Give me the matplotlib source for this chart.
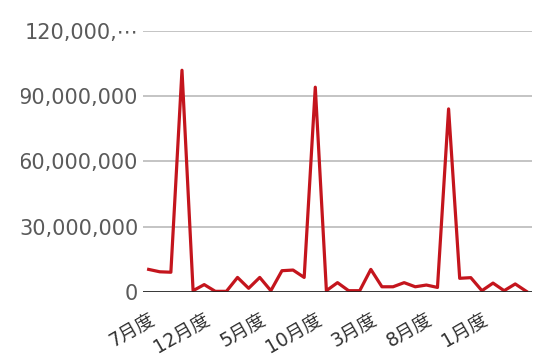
import matplotlib
matplotlib.use("Agg")
import matplotlib.pyplot as plt
from matplotlib.patches import Rectangle
from matplotlib.ticker import FixedLocator, FixedFormatter

plt.rcParams['font.family'] = ['DejaVu Sans', 'Noto Sans CJK JP']

# months from 7月度 on, 35 monthly points
months = [7, 8, 9, 10, 11, 12, 1, 2, 3, 4, 5, 6,
          7, 8, 9, 10, 11, 12, 1, 2, 3, 4, 5, 6,
          7, 8, 9, 10, 11, 12, 1, 2, 3, 4, 5]
categories = [f"{m}月度" for m in months]
values = [10.3e6, 9.2e6, 9.0e6, 102.0e6, 0.5e6, 3.3e6, 0.2e6, 0.2e6, 6.6e6, 1.6e6,
          6.6e6, 0.5e6, 9.7e6, 10.0e6, 6.6e6, 94.2e6, 0.5e6, 4.2e6, 0.5e6, 0.5e6,
          10.3e6, 2.3e6, 2.3e6, 4.2e6, 2.3e6, 3.1e6, 2.0e6, 84.2e6, 6.2e6, 6.5e6,
          0.5e6, 4.0e6, 0.5e6, 3.6e6, 0.2e6]
y_ticks = [0, 30e6, 60e6, 90e6, 120e6]
y_labels = ["0", "30,000,000", "60,000,000", "90,000,000", "120,000,\u22ef"]

fig = plt.figure(figsize=(5.4, 3.58), dpi=100)
ax = fig.add_axes([0.265, 0.185, 0.72, 0.728])

x = list(range(len(values)))
ax.plot(x, values, color='#c4151d', lw=2.3, zorder=3)

ax.set_xlim(-0.5, len(values) - 0.5)
ax.set_ylim(0, 120e6)

ax.yaxis.set_major_locator(FixedLocator(y_ticks))
ax.yaxis.set_major_formatter(FixedFormatter(y_labels))
ax.grid(axis='y', color='#c4c4c4', lw=1.4)
ax.axhline(0, color='#1e1e1e', lw=1.9, zorder=4)

ax.set_xticks(x[::5])
ax.set_xticklabels(categories[::5], rotation=30, ha='right',
                   rotation_mode='anchor', fontsize=13.5, color='#333333')
ax.tick_params(axis='x', length=0, pad=13)
ax.tick_params(axis='y', length=0, pad=3.5, labelsize=15, labelcolor='#5a5a5a')

for s in ax.spines.values():
    s.set_visible(False)
ax.set_axisbelow(True)

# the labels are clipped on the left in the original
fig.add_artist(Rectangle((0, 0), 21 / 540, 1, transform=fig.transFigure,
                         facecolor='white', edgecolor='none', zorder=10))

fig.savefig("out.png", dpi=100)
